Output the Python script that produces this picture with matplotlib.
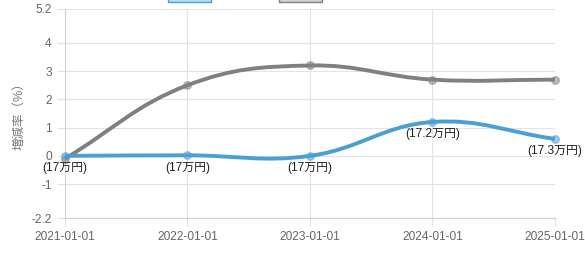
import numpy as np
import matplotlib.pyplot as plt
from matplotlib.path import Path
from matplotlib.patches import PathPatch, Rectangle

plt.rcParams['font.family'] = ['Liberation Sans', 'Noto Sans CJK JP']

# data
dates = ['2021-01-01', '2022-01-01', '2023-01-01', '2024-01-01', '2025-01-01']
rate_a = [0.0, 0.02, 0.0, 1.2, 0.6]      # blue series
rate_b = [-0.1, 2.5, 3.2, 2.7, 2.7]     # grey series
labels_a = ['(17万円)', '(17万円)', '(17万円)', '(17.2万円)', '(17.3万円)']
yticks = [-2.2, -1, 0, 1, 2, 3, 4, 5.2]

blue = '#4a9fd4'
grey = '#808080'
gridc = '#e3e3e3'


def spline_path(ax, xs, ys, tension=0.4):
    # chart.js style cubic bezier between points (computed in pixel space)
    pts = ax.transData.transform(np.column_stack([xs, ys]))
    n = len(pts)
    cps = []
    for i in range(n):
        prev = pts[max(i - 1, 0)]
        cur = pts[i]
        nxt = pts[min(i + 1, n - 1)]
        d01 = np.hypot(*(cur - prev))
        d12 = np.hypot(*(nxt - cur))
        tot = d01 + d12
        s01 = d01 / tot if tot else 0
        s12 = d12 / tot if tot else 0
        cps.append((cur - tension * s01 * (nxt - prev), cur + tension * s12 * (nxt - prev)))
    verts = [pts[0]]
    codes = [Path.MOVETO]
    for i in range(n - 1):
        verts += [cps[i][1], cps[i + 1][0], pts[i + 1]]
        codes += [Path.CURVE4] * 3
    inv = ax.transData.inverted()
    return Path(inv.transform(np.array(verts)), codes)


fig = plt.figure(figsize=(5.85, 2.6), dpi=100)
ax = fig.add_axes([0.1111, 0.1615, 0.8376, 0.8039])
x = np.arange(len(dates))
ax.set_xlim(0, len(dates) - 1)
ax.set_ylim(-2.2, 5.2)

for vals, c in [(rate_b, grey), (rate_a, blue)]:
    p = spline_path(ax, x, vals)
    ax.add_patch(PathPatch(p, facecolor='none', edgecolor=c, lw=2.8, clip_on=False, zorder=3))
    ax.scatter(x, vals, s=28, facecolor=c, edgecolor=c, alpha=0.5, lw=1.2, zorder=4, clip_on=False)

for xi, yi, t in zip(x, rate_a, labels_a):
    ax.annotate(t, (xi, yi), xytext=(0, -9), textcoords='offset points',
                ha='center', va='center', fontsize=8.6, color='#222222', zorder=5)

ax.set_xticks(x)
ax.set_xticklabels(dates)
ax.set_yticks(yticks)
ax.set_yticklabels(['-2.2', '-1', '0', '1', '2', '3', '4', '5.2'])
ax.grid(True, color=gridc, lw=0.8)
ax.tick_params(colors=gridc, labelcolor='#666666', labelsize=8.6, length=6, width=0.8)
for s in ['top', 'right']:
    ax.spines[s].set_visible(False)
for s in ['left', 'bottom']:
    ax.spines[s].set_color('#d0d0d0')
ax.set_ylabel('増減率（%）', color='#777777', fontsize=9, labelpad=4)

# legend boxes (cut off at top of picture)
fig.patches.append(Rectangle((168 / 585, 1 - 2 / 260), 43 / 585, 0.05, transform=fig.transFigure,
                             facecolor='#b8dcf0', edgecolor=blue, lw=1, figure=fig))
fig.patches.append(Rectangle((279 / 585, 1 - 2 / 260), 43 / 585, 0.05, transform=fig.transFigure,
                             facecolor='#d0d0d0', edgecolor=grey, lw=1, figure=fig))

fig.savefig('out.png', dpi=100)
